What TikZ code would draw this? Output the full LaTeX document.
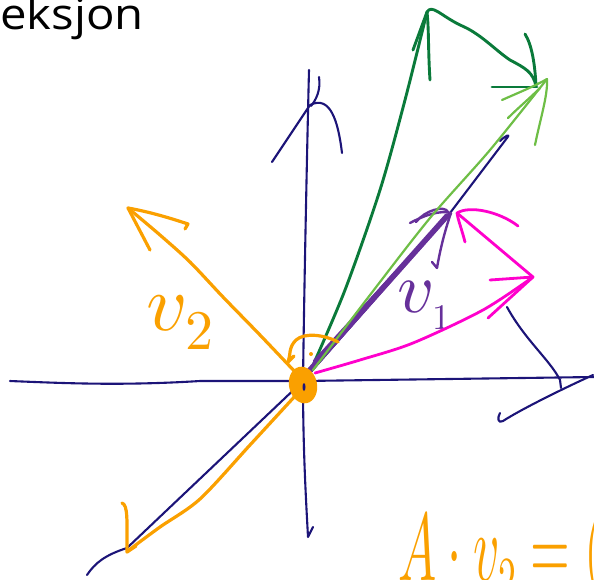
\documentclass[tikz,border=0pt]{standalone}
\usepackage{fontspec}
\usepackage{unicode-math}
\setmathfont{Latin Modern Math}
\newfontfamily\titlefont{Open Sans}
\usepackage{tikz}
\usetikzlibrary{arrows.meta,positioning,calc}
\definecolor{axisblue}{RGB}{28,20,120}
\definecolor{darkgreen}{RGB}{10,122,58}
\definecolor{lightgreen}{RGB}{110,190,70}
\definecolor{vpurple}{RGB}{102,48,154}
\definecolor{vmagenta}{RGB}{255,0,204}
\definecolor{vorange}{RGB}{250,160,0}

\begin{document}
\begin{tikzpicture}[x=1pt, y=-1pt,
  hand/.style={line cap=round, line join=round},
  axisline/.style={hand, draw=axisblue, line width=2.1pt},
  dgline/.style={hand, draw=darkgreen, line width=2.9pt},
  lgline/.style={hand, draw=lightgreen, line width=2.2pt},
  purline/.style={hand, draw=vpurple, line width=2.4pt},
  magline/.style={hand, draw=vmagenta, line width=2.8pt},
  orline/.style={hand, draw=vorange, line width=3.2pt},
  handlabel/.style={anchor=base west, inner sep=0pt}
]
\useasboundingbox (0,0) rectangle (594,579);
\clip (0,0) rectangle (594,579);

% title, cut at the left edge
\node[handlabel, font=\titlefont\fontsize{43}{46}\selectfont] (title) at (0,29) {\scalebox{1.1}[1]{eksjon}};

% axes
\coordinate (O) at (303,381);
\draw[axisline] (10,381) .. controls (60,383) and (120,386) .. (200,381) -- (O) -- (594,377);
\draw[axisline] (507,307) .. controls (525,340) and (550,360) .. (560,380) -- (561,388);
\draw[axisline] (593,375) .. controls (560,390) and (520,410) .. (503,421) .. controls (498,424) and (497,418) .. (500,413);
\draw[axisline] (309,70) .. controls (307,150) and (304,300) .. (O) .. controls (303,450) and (306,500) .. (308,537) -- (313,527);
\draw[axisline] (272,162) -- (310,105) .. controls (330,95) and (338,120) .. (342,153);
\draw[axisline] (319,77) .. controls (321,90) and (316,100) .. (311,106);
\draw[axisline] (87,575) .. controls (95,563) and (105,555) .. (127,548) -- (O) -- (450,213) -- (507,138) .. controls (511,133) and (505,136) .. (500,141);

% dark green sum
\coordinate (G1) at (427,12);
\coordinate (G2) at (536,86);
\draw[dgline] plot[smooth] coordinates {(310,372) (345,290) (380,190) (405,100) (G1)};
\draw[dgline] (413,50) -- (G1) .. controls (429,30) and (428,50) .. (430,80);
\draw[dgline] (G1) .. controls (432,4) and (440,15) .. (460,25) .. controls (480,33) and (495,50) .. (510,60) .. controls (525,68) and (533,72) .. (G2);
\draw[dgline] (525,34) .. controls (532,45) and (535,65) .. (G2);
\draw[dgline] (492,87) -- (537,87);

% v1
\coordinate (P) at (451,213);
\draw[purline, line width=5.5pt] (309,371) -- (447,216);
\draw[purline] (314,361) -- (445,218);
\draw[purline] (305,378) -- (P);
\draw[purline] (410,223) .. controls (425,215) and (440,210) .. (P);
\draw[purline] (416,222) .. controls (425,210) and (445,205) .. (448,212);
\draw[purline] (P) .. controls (445,230) and (440,250) .. (437,268) -- (432,262);
\node[handlabel, text=vpurple, font=\fontsize{72}{80}\selectfont] (v1) at (397,312) {$v_{\scriptscriptstyle 1}$};

% light green
\coordinate (L) at (547,79);
\draw[lgline] plot[smooth] coordinates {(313,370) (370,295) (430,218) (490,150) (L)};
\draw[lgline] (502,100) .. controls (520,92) and (535,86) .. (L) .. controls (548,95) and (540,120) .. (535,145);
\draw[lgline] (540,88) .. controls (530,98) and (518,108) .. (508,118);

% magenta
\coordinate (M1) at (533,277);
\coordinate (M2) at (457,213);
\draw[magline] plot[smooth] coordinates {(315,373) (360,360) (413,343) (483,310) (M1)};
\draw[magline] (490,280) -- (M1) -- (488,318);
\draw[magline] (M1) -- (M2);
\draw[magline] (465,242) .. controls (462,230) and (458,220) .. (M2) .. controls (470,205) and (500,212) .. (518,226);

% v2 and its mirror
\coordinate (V2) at (128,208);
\coordinate (W) at (127,552);
\draw[orline] plot[smooth] coordinates {(298,375) (260,335) (223,297) (190,262) (160,235) (V2)};
\draw[orline] (150,250) -- (V2) .. controls (150,212) and (170,218) .. (188,224) -- (185,229);
\node[handlabel, text=vorange, font=\fontsize{80}{88}\selectfont] (v2) at (146,330) {$v_2$};
\draw[orline] plot[smooth] coordinates {(296,395) (250,445) (200,499) (160,527) (133,547) (W)};
\draw[orline] (122,503) .. controls (128,505) and (127,520) .. (W) -- (136,546);
\draw[orline] (338,342) .. controls (325,335) and (305,332) .. (296,340) .. controls (288,348) and (291,355) .. (288,362) -- (294,356);
\fill[vorange] (311,354) circle (2pt);
\fill[vorange, rotate around={12:(303,385)}] (303,385) ellipse (14pt and 18.5pt);
\fill[axisblue] (304,387) ellipse (1.5pt and 4pt);

% A v2
\node[handlabel, text=vorange, font=\fontsize{60}{66}\selectfont] (Av2) at (398,580) {\scalebox{0.85}[1.6]{$A\cdot v_2=($}};
\end{tikzpicture}
\end{document}
